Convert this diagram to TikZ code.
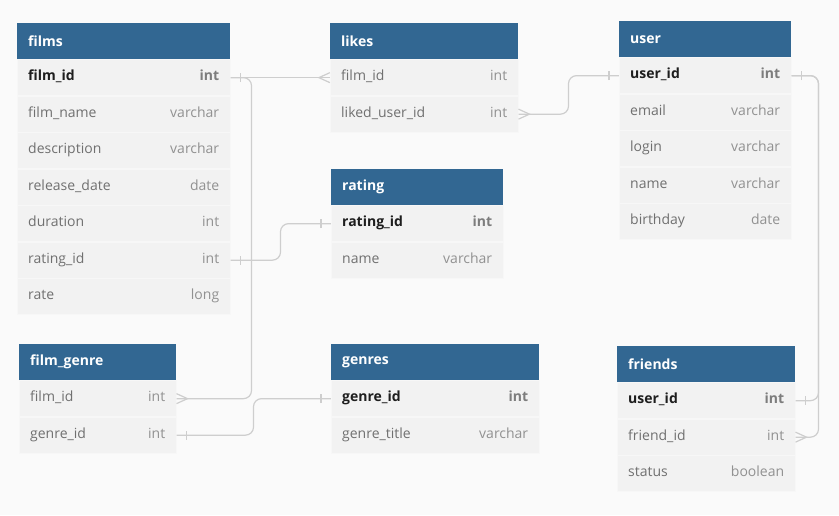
\documentclass[tikz,border=0pt]{standalone}
\usepackage{fontspec}
\setmainfont{Open Sans}
\usetikzlibrary{positioning,decorations.markings}

\definecolor{headblue}{RGB}{50,103,146}
\definecolor{rowgray}{RGB}{242,242,242}
\definecolor{rowline}{RGB}{247,247,247}
\definecolor{pagegray}{RGB}{250,250,250}
\definecolor{linkgray}{RGB}{206,206,206}
\definecolor{keytext}{RGB}{30,30,30}
\definecolor{keytype}{RGB}{125,125,125}
\definecolor{coltext}{RGB}{112,112,112}
\definecolor{coltype}{RGB}{145,145,145}

\tikzset{
  tablehead/.style={fill=headblue,text=white,font=\fontsize{14}{16}\selectfont\bfseries,
    anchor=north west,minimum height=36pt,inner xsep=11pt,inner ysep=0pt,align=left},
  tablerow/.style={fill=rowgray,draw=rowline,line width=0.6pt,minimum height=35.9pt,
    inner xsep=11pt,inner ysep=0pt,align=left,text height=10pt,text depth=3.5pt},
  keyrow/.style={tablerow,font=\fontsize{14}{16}\selectfont\bfseries,
    execute at begin node={\def\namecolor{keytext}\def\typecolor{keytype}}},
  fieldrow/.style={tablerow,font=\fontsize{14}{16}\selectfont,
    execute at begin node={\def\namecolor{coltext}\def\typecolor{coltype}}},
  link/.style={draw=linkgray,line width=1.2pt,rounded corners=8pt},
  tipline/.style={draw=linkgray,line width=1.2pt,sharp corners},
  one start/.style={postaction={decorate,decoration={markings,
    mark=at position 10pt with {\draw[tipline] (0pt,-4.5pt) -- (0pt,4.5pt);}}}},
  one end/.style={postaction={decorate,decoration={markings,
    mark=at position -10pt with {\draw[tipline] (0pt,-4.5pt) -- (0pt,4.5pt);}}}},
  many start/.style={postaction={decorate,decoration={markings,
    mark=at position 11pt with {\draw[tipline] (-11pt,-5pt) -- (0pt,0pt) -- (-11pt,5pt);}}}},
  many end/.style={postaction={decorate,decoration={markings,
    mark=at position -11pt with {\draw[tipline] (11pt,-5pt) -- (0pt,0pt) -- (11pt,5pt);}}}}
}

% name, title, top left corner, width, number of key rows, rows
\newcommand{\dbtable}[6]{%
  \pgfmathsetmacro{\tw}{#4-22}
  \node[tablehead,minimum width=#4pt,text width=\tw pt,alias=#1-0] (#1) at (#3) {#2};
  \foreach \col/\typ [count=\i, remember=\i as \last (initially 0)] in {#6}{
    \ifnum\i>#5 \def\rowkind{fieldrow}\else\def\rowkind{keyrow}\fi
    \node[style/.expand once=\rowkind,minimum width=#4pt,text width=\tw pt,
      below=0pt of #1-\last] (#1-\i)
      {\textcolor{\namecolor}{\col}\hfill\textcolor{\typecolor}{\typ}};
  }
}

\begin{document}
\begin{tikzpicture}[x=1pt,y=-1pt]
  \fill[pagegray] (0,0) rectangle (839,515);
  \useasboundingbox (0,0) rectangle (839,515);

  \dbtable{films}{films}{17,23}{213}{1}{film\_id/int, film\_name/varchar, description/varchar,
    release\_date/date, duration/int, rating\_id/int, rate/long}
  \dbtable{likes}{likes}{330,23}{188}{0}{film\_id/int, liked\_user\_id/int}
  \dbtable{user}{user}{619,21}{172}{1}{user\_id/int, email/varchar, login/varchar,
    name/varchar, birthday/date}
  \dbtable{rating}{rating}{331,169}{172}{1}{rating\_id/int, name/varchar}
  \dbtable{filmgenre}{film\_genre}{19,344}{157}{0}{film\_id/int, genre\_id/int}
  \dbtable{genres}{genres}{331,344}{208}{1}{genre\_id/int, genre\_title/varchar}
  \dbtable{friends}{friends}{617,346}{178}{1}{user\_id/int, friend\_id/int, status/boolean}

  % relations
  \draw[link,one start,many end] (films-1.east) -- (likes-1.west);
  \draw[link,many end] (films-1.east) -- ++(21,0) |- (filmgenre-1.east);
  \draw[link,many start,one end] (likes-2.east) -- ++(50,0) |- (user-1.west);
  \draw[link,one start,one end] (films-6.east) -- ++(50,0) |- (rating-1.west);
  \draw[link,one start,one end] (filmgenre-2.east) -- ++(77,0) |- (genres-1.west);
  \draw[link,one start,one end] (user-1.east) -- ++(27,0) |- (friends-1.east);
  \draw[link,many end] (user-1.east) -- ++(27,0) |- (friends-2.east);
\end{tikzpicture}
\end{document}
